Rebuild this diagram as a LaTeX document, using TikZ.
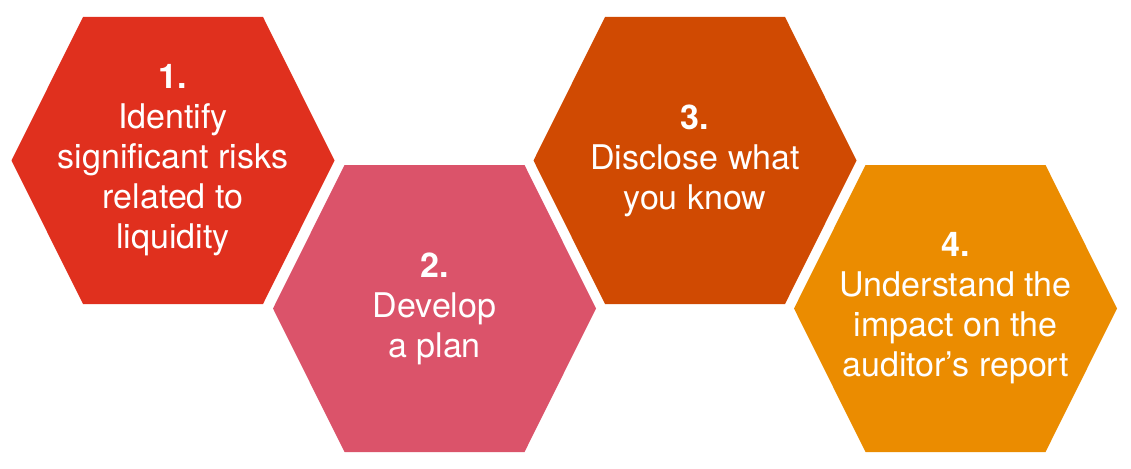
\documentclass[tikz,border=0pt]{standalone}
\usepackage{fontspec}
\setmainfont{TeX Gyre Heros}
\definecolor{hexred}{HTML}{E0301E}
\definecolor{hexrose}{HTML}{DB536A}
\definecolor{hexorange}{HTML}{D04A02}
\definecolor{hextang}{HTML}{EB8C00}
\begin{document}
\begin{tikzpicture}[x=1pt,y=1pt,
  hextext/.style={text=white, align=center, font=\fontsize{34}{40}\selectfont, inner sep=0pt},
  pics/hexa/.style={code={
    \fill[#1] (-161.5,0) -- (-90,-143.5) -- (90,-143.5) -- (161.5,0) -- (90,143.5) -- (-90,143.5) -- cycle;
  }}]
\useasboundingbox (0,0) rectangle (1131,-468);
\pic at (173,-160.5) {hexa=hexred};
\pic at (434.5,-308.5) {hexa=hexrose};
\pic at (695,-160.5) {hexa=hexorange};
\pic at (955.5,-308.5) {hexa=hextang};
\node[hextext] (t1) at (173,-160.5) {\textbf{1.}\\Identify\\significant risks\\related to\\liquidity};
\node[hextext] (t2) at (434.5,-308.5) {\textbf{2.}\\Develop\\a plan};
\node[hextext] (t3) at (695,-160.5) {\textbf{3.}\\Disclose what\\you know};
\node[hextext] (t4) at (955.5,-308.5) {\textbf{4.}\\Understand the\\impact on the\\auditor’s report};
\end{tikzpicture}
\end{document}
